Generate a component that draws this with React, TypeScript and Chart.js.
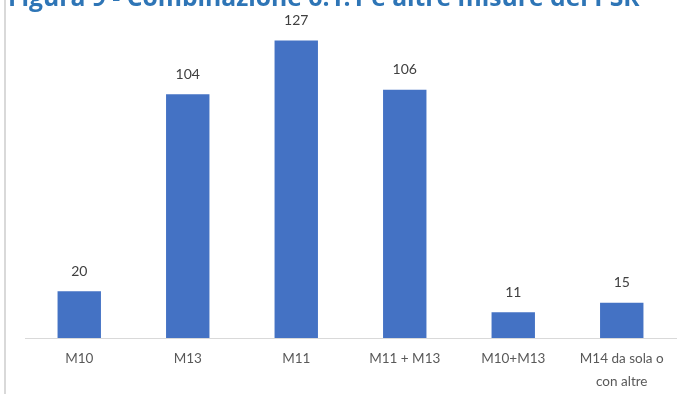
import React, { useEffect, useRef } from "react";
import { Chart, registerables } from "chart.js";

Chart.register(...registerables);

const categories: (string | string[])[] = [
  "M10",
  "M13",
  "M11",
  "M11 + M13",
  "M10+M13",
  ["M14 da sola o", "con altre"],
];
const values: number[] = [20, 104, 127, 106, 11, 15];
const titleText = "Figura 9 - Combinazione 6.1.1 e altre misure del PSR";

const valueLabels = {
  id: "valueLabels",
  afterDatasetsDraw(chart: any) {
    const ctx = chart.ctx;
    const meta = chart.getDatasetMeta(0);
    ctx.save();
    ctx.font = "14px Lato, 'Open Sans', sans-serif";
    ctx.fillStyle = "#404040";
    ctx.textAlign = "center";
    ctx.textBaseline = "middle";
    meta.data.forEach((bar: any, i: number) => {
      ctx.fillText(String(values[i]), bar.x, bar.y - 20);
    });
    ctx.restore();
  },
};

export default function App() {
  const ref = useRef<HTMLCanvasElement>(null);
  useEffect(() => {
    const chart = new Chart(ref.current!, {
      type: "bar",
      data: {
        labels: categories,
        datasets: [
          {
            data: values,
            backgroundColor: "#4472C4",
            barPercentage: 0.4,
            categoryPercentage: 1,
          },
        ],
      },
      options: {
        animation: false,
        responsive: false,
        layout: { padding: { left: 25, right: 6, top: 10, bottom: 0 } },
        plugins: { legend: { display: false }, tooltip: { enabled: false } },
        scales: {
          y: { display: false, min: 0, max: 140 },
          x: {
            afterFit: (s: any) => {
              s.height = 56;
            },
            grid: { display: false },
            border: { display: true, color: "#d9d9d9", width: 1 },
            ticks: {
              color: "#595959",
              font: { family: "Lato, 'Open Sans', sans-serif", size: 13.5, lineHeight: 1.65 },
              padding: 2,
              maxRotation: 0,
              autoSkip: false,
            },
          },
        },
      },
      plugins: [valueLabels],
    });
    return () => chart.destroy();
  }, []);
  return (
    <div
      style={{
        position: "fixed",
        left: 0,
        top: 0,
        width: 682,
        height: 394,
        background: "#fff",
        overflow: "hidden",
      }}
    >
      <div
        style={{
          position: "absolute",
          left: 4,
          top: 0,
          width: 0,
          height: 394,
          borderLeft: "2px solid #d9d9d9",
        }}
      />
      <canvas ref={ref} width={682} height={394} style={{ position: "absolute", left: 0, top: 0 }} />
      <div
        style={{
          position: "absolute",
          left: 8,
          top: -16,
          whiteSpace: "nowrap",
          fontFamily: "'Open Sans', sans-serif",
          fontWeight: 700,
          fontSize: 24.7,
          lineHeight: "25px",
          color: "#2E75B6",
        }}
      >
        {titleText}
      </div>
    </div>
  );
}
